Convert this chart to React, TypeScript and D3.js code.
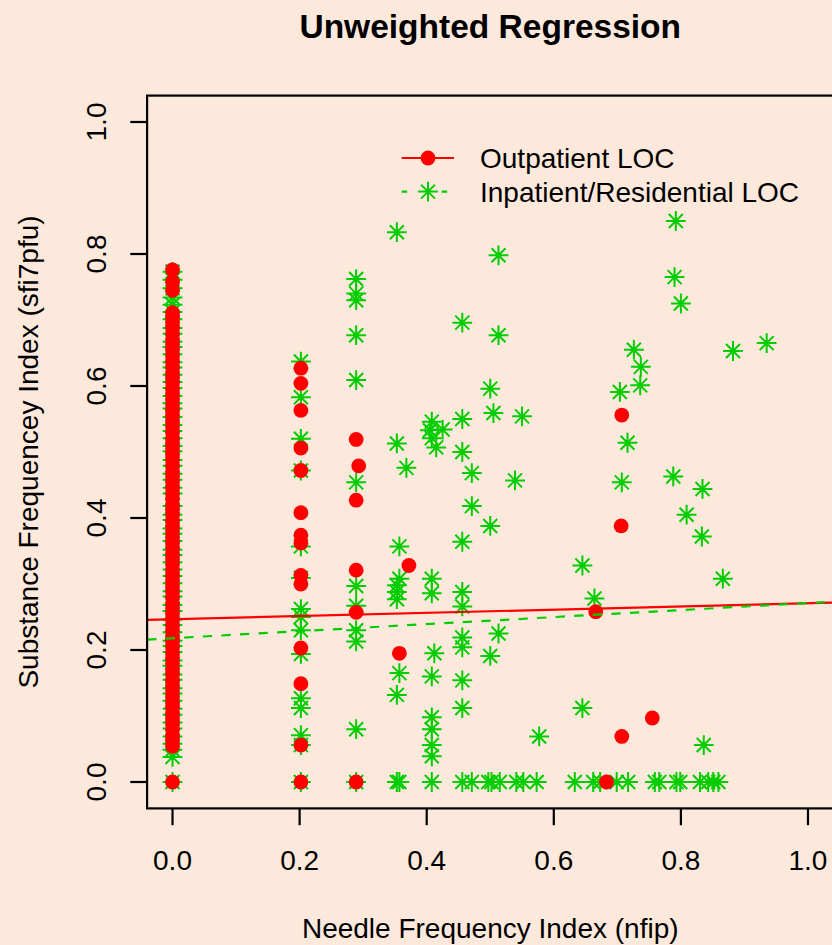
import * as d3 from 'd3';
import React, { useRef, useEffect } from 'react';

// outpatient (red dots): the dense column at nfip = 0, then the rest
const outpatientZeroY = [0, 0.054, 0.063, 0.071, 0.08, 0.087, 0.096, 0.104, 0.113, 0.12, 0.129, 0.138, 0.146, 0.154, 0.163, 0.171, 0.18, 0.188, 0.196, 0.205, 0.213, 0.221, 0.23, 0.238, 0.246, 0.255, 0.263, 0.271, 0.28, 0.288, 0.296, 0.305, 0.313, 0.321, 0.33, 0.338, 0.346, 0.355, 0.363, 0.371, 0.38, 0.388, 0.396, 0.405, 0.413, 0.421, 0.43, 0.438, 0.446, 0.455, 0.463, 0.471, 0.48, 0.488, 0.496, 0.505, 0.513, 0.521, 0.53, 0.538, 0.546, 0.555, 0.563, 0.571, 0.58, 0.588, 0.596, 0.605, 0.613, 0.621, 0.63, 0.638, 0.646, 0.655, 0.663, 0.671, 0.68, 0.688, 0.696, 0.704, 0.711, 0.745, 0.758, 0.776];
const outpatientX = [0.202, 0.202, 0.202, 0.202, 0.202, 0.202, 0.202, 0.202, 0.202, 0.202, 0.202, 0.202, 0.202, 0.202,
  0.289, 0.293, 0.289, 0.289, 0.289, 0.289, 0.372, 0.357, 0.666, 0.706, 0.707, 0.755, 0.707, 0.683];
const outpatientY = [0.627, 0.604, 0.563, 0.506, 0.472, 0.408, 0.374, 0.362, 0.313, 0.300, 0.203, 0.149, 0.056, 0,
  0.519, 0.479, 0.427, 0.321, 0.257, 0, 0.328, 0.195, 0.258, 0.388, 0.556, 0.097, 0.069, 0];

// inpatient/residential (green asterisks)
const inpatientZeroY = [0, 0.038, 0.049, 0.058, 0.069, 0.081, 0.09, 0.102, 0.111, 0.123, 0.134, 0.142, 0.155, 0.163, 0.176, 0.184, 0.197, 0.206, 0.214, 0.227, 0.238, 0.246, 0.259, 0.268, 0.281, 0.289, 0.301, 0.312, 0.322, 0.333, 0.344, 0.352, 0.365, 0.376, 0.384, 0.397, 0.405, 0.418, 0.437, 0.446, 0.458, 0.467, 0.479, 0.488, 0.501, 0.509, 0.521, 0.532, 0.541, 0.553, 0.566, 0.574, 0.585, 0.597, 0.606, 0.617, 0.628, 0.636, 0.648, 0.659, 0.667, 0.679, 0.688, 0.701, 0.712, 0.723, 0.734, 0.748, 0.761, 0.773];
const inpatientX = [
  0.202, 0.202, 0.202, 0.202, 0.202, 0.202, 0.202, 0.202, 0.202, 0.202, 0.202, 0.202, 0.202, 0.202, 0.202,
  0.289, 0.289, 0.289, 0.289, 0.289, 0.289, 0.289, 0.289, 0.289, 0.289, 0.289, 0.289,
  0.353, 0.353, 0.357, 0.357, 0.353, 0.353, 0.353, 0.357, 0.353, 0.353, 0.357, 0.368,
  0.408, 0.405, 0.408, 0.408, 0.408, 0.408, 0.408, 0.408, 0.408, 0.408, 0.408, 0.425, 0.415, 0.412,
  0.456, 0.456, 0.456, 0.456, 0.456, 0.456, 0.456, 0.456, 0.456, 0.456, 0.456,
  0.471, 0.471, 0.471, 0.5, 0.5, 0.5, 0.497, 0.505, 0.513, 0.513, 0.513, 0.502, 0.515,
  0.539, 0.541, 0.55, 0.552, 0.573, 0.577, 0.633, 0.645, 0.645, 0.662, 0.664, 0.673,
  0.699, 0.704, 0.707, 0.716, 0.717, 0.726, 0.737, 0.736, 0.759, 0.766,
  0.788, 0.79, 0.792, 0.793, 0.799, 0.8, 0.809, 0.83, 0.833, 0.834, 0.836, 0.843, 0.851, 0.859,
  0.866, 0.882, 0.935];
const inpatientY = [
  0.637, 0.583, 0.52, 0.472, 0.357, 0.309, 0.262, 0.25, 0.23, 0.194, 0.127, 0.112, 0.071, 0.056, 0,
  0.762, 0.74, 0.73, 0.677, 0.609, 0.454, 0.297, 0.267, 0.23, 0.213, 0.08, 0,
  0.833, 0.513, 0.357, 0.308, 0.298, 0.288, 0.277, 0.165, 0.132, 0, 0, 0.476,
  0.546, 0.533, 0.521, 0.308, 0.286, 0.16, 0.098, 0.08, 0.056, 0.039, 0, 0.534, 0.507, 0.195,
  0.696, 0.55, 0.5, 0.364, 0.288, 0.266, 0.219, 0.204, 0.154, 0.112, 0,
  0.468, 0.418, 0, 0.596, 0.388, 0.191, 0, 0.559, 0.798, 0.677, 0.225, 0, 0,
  0.457, 0, 0.554, 0, 0, 0.069, 0, 0.328, 0.112, 0, 0.278, 0,
  0, 0.591, 0.454, 0.514, 0, 0.655, 0.629, 0.601, 0, 0,
  0.463, 0.765, 0.85, 0, 0, 0.725, 0.405, 0, 0.372, 0.444, 0.056, 0, 0, 0,
  0.308, 0.653, 0.665];

// fitted lines (intercept, slope)
const outpatientFit = [0.2466, 0.0242];
const inpatientFit = [0.2179, 0.0533];

const xTicks = [0, 0.2, 0.4, 0.6, 0.8, 1.0];
const yTicks = [0, 0.2, 0.4, 0.6, 0.8, 1.0];
const legendLabels = ['Outpatient LOC', 'Inpatient/Residential LOC'];

const W = 832, H = 945;
const BG = '#FDE9DC';
const RED = '#FF0000';
const GREEN = '#00CD00';
const FONT = '"Liberation Sans", Arial, Helvetica, sans-serif';

function asterisk(cx, cy) {
  const a = 9.9, b = 7;
  return `M${cx - a},${cy}H${cx + a}M${cx},${cy - a}V${cy + a}` +
    `M${cx - b},${cy - b}L${cx + b},${cy + b}M${cx - b},${cy + b}L${cx + b},${cy - b}`;
}

function App() {
  const ref = useRef(null);

  useEffect(() => {
    const svg = d3.select(ref.current);
    svg.selectAll('*').remove();

    const x = d3.scaleLinear().domain([-0.04, 1.04]).range([147.1, 833.4]);
    const y = d3.scaleLinear().domain([-0.04, 1.04]).range([808.4, 95.6]);

    svg.append('rect').attr('width', W).attr('height', H).attr('fill', BG);

    svg.append('defs').append('clipPath').attr('id', 'plotclip')
      .append('rect')
      .attr('x', x(-0.04)).attr('y', y(1.04))
      .attr('width', x(1.04) - x(-0.04)).attr('height', y(-0.04) - y(1.04));

    // points
    const green = inpatientZeroY.map(v => [0, v]).concat(inpatientX.map((v, i) => [v, inpatientY[i]]));
    const red = outpatientZeroY.map(v => [0, v]).concat(outpatientX.map((v, i) => [v, outpatientY[i]]));

    svg.append('g').selectAll('path').data(green).enter()
      .append('path')
      .attr('d', d => asterisk(x(d[0]), y(d[1])))
      .attr('stroke', GREEN).attr('stroke-width', 2).attr('fill', 'none');

    svg.append('g').selectAll('circle').data(red).enter()
      .append('circle')
      .attr('cx', d => x(d[0])).attr('cy', d => y(d[1]))
      .attr('r', 7.4).attr('fill', RED);

    // regression lines
    const lines = svg.append('g').attr('clip-path', 'url(#plotclip)');
    const fitLine = (fit) => [-0.04, 1.04].map(v => [x(v), y(fit[0] + fit[1] * v)]);
    lines.append('path').attr('d', d3.line()(fitLine(outpatientFit)))
      .attr('stroke', RED).attr('stroke-width', 2.2).attr('fill', 'none');
    lines.append('path').attr('d', d3.line()(fitLine(inpatientFit)))
      .attr('stroke', GREEN).attr('stroke-width', 2.2).attr('fill', 'none')
      .attr('stroke-dasharray', '9.3,9.3');

    // box
    svg.append('rect')
      .attr('x', x(-0.04)).attr('y', y(1.04))
      .attr('width', x(1.04) - x(-0.04)).attr('height', y(-0.04) - y(1.04))
      .attr('fill', 'none').attr('stroke', '#000').attr('stroke-width', 2.2);

    // axes
    const fmt = d3.format('.1f');
    const xa = svg.append('g');
    xa.selectAll('line').data(xTicks).enter().append('line')
      .attr('x1', d => x(d)).attr('x2', d => x(d))
      .attr('y1', y(-0.04)).attr('y2', y(-0.04) + 16.8)
      .attr('stroke', '#000').attr('stroke-width', 2.2);
    xa.selectAll('text').data(xTicks).enter().append('text')
      .attr('x', d => x(d)).attr('y', 870)
      .attr('text-anchor', 'middle')
      .style('font-family', FONT).style('font-size', '28px')
      .text(d => fmt(d));

    const ya = svg.append('g');
    ya.selectAll('line').data(yTicks).enter().append('line')
      .attr('y1', d => y(d)).attr('y2', d => y(d))
      .attr('x1', x(-0.04)).attr('x2', x(-0.04) - 16.8)
      .attr('stroke', '#000').attr('stroke-width', 2.2);
    ya.selectAll('text').data(yTicks).enter().append('text')
      .attr('transform', d => `translate(106.4,${y(d)}) rotate(-90)`)
      .attr('text-anchor', 'middle')
      .style('font-family', FONT).style('font-size', '28px')
      .text(d => fmt(d));

    // titles
    svg.append('text')
      .attr('x', (x(-0.04) + x(1.04)) / 2).attr('y', 38)
      .attr('text-anchor', 'middle')
      .style('font-family', FONT).style('font-size', '33.5px').style('font-weight', 'bold')
      .text('Unweighted Regression');
    svg.append('text')
      .attr('x', (x(-0.04) + x(1.04)) / 2).attr('y', 938)
      .attr('text-anchor', 'middle')
      .style('font-family', FONT).style('font-size', '28px')
      .text('Needle Frequency Index (nfip)');
    svg.append('text')
      .attr('transform', `translate(38,${(y(-0.04) + y(1.04)) / 2}) rotate(-90)`)
      .attr('text-anchor', 'middle')
      .style('font-family', FONT).style('font-size', '28px')
      .text('Substance Frequencey Index (sfi7pfu)');

    // legend
    const lg = svg.append('g');
    const rows = [158, 191.6];
    lg.append('line').attr('x1', 401.7).attr('x2', 454).attr('y1', rows[0]).attr('y2', rows[0])
      .attr('stroke', RED).attr('stroke-width', 2.2);
    lg.append('circle').attr('cx', 428).attr('cy', rows[0]).attr('r', 7.4).attr('fill', RED);
    lg.append('line').attr('x1', 401.7).attr('x2', 454).attr('y1', rows[1]).attr('y2', rows[1])
      .attr('stroke', GREEN).attr('stroke-width', 2.2).attr('stroke-dasharray', '5.5,34.5');
    lg.append('path').attr('d', asterisk(428, rows[1]))
      .attr('stroke', GREEN).attr('stroke-width', 2).attr('fill', 'none');
    lg.selectAll('text').data(legendLabels).enter().append('text')
      .attr('x', 480).attr('y', (d, i) => rows[i] + 10)
      .style('font-family', FONT).style('font-size', '28px')
      .text(d => d);
  }, []);

  return (
    <svg ref={ref} width={W} height={H}
      style={{ position: 'absolute', left: 0, top: 0, display: 'block' }}>
    </svg>
  );
}

export default App;
